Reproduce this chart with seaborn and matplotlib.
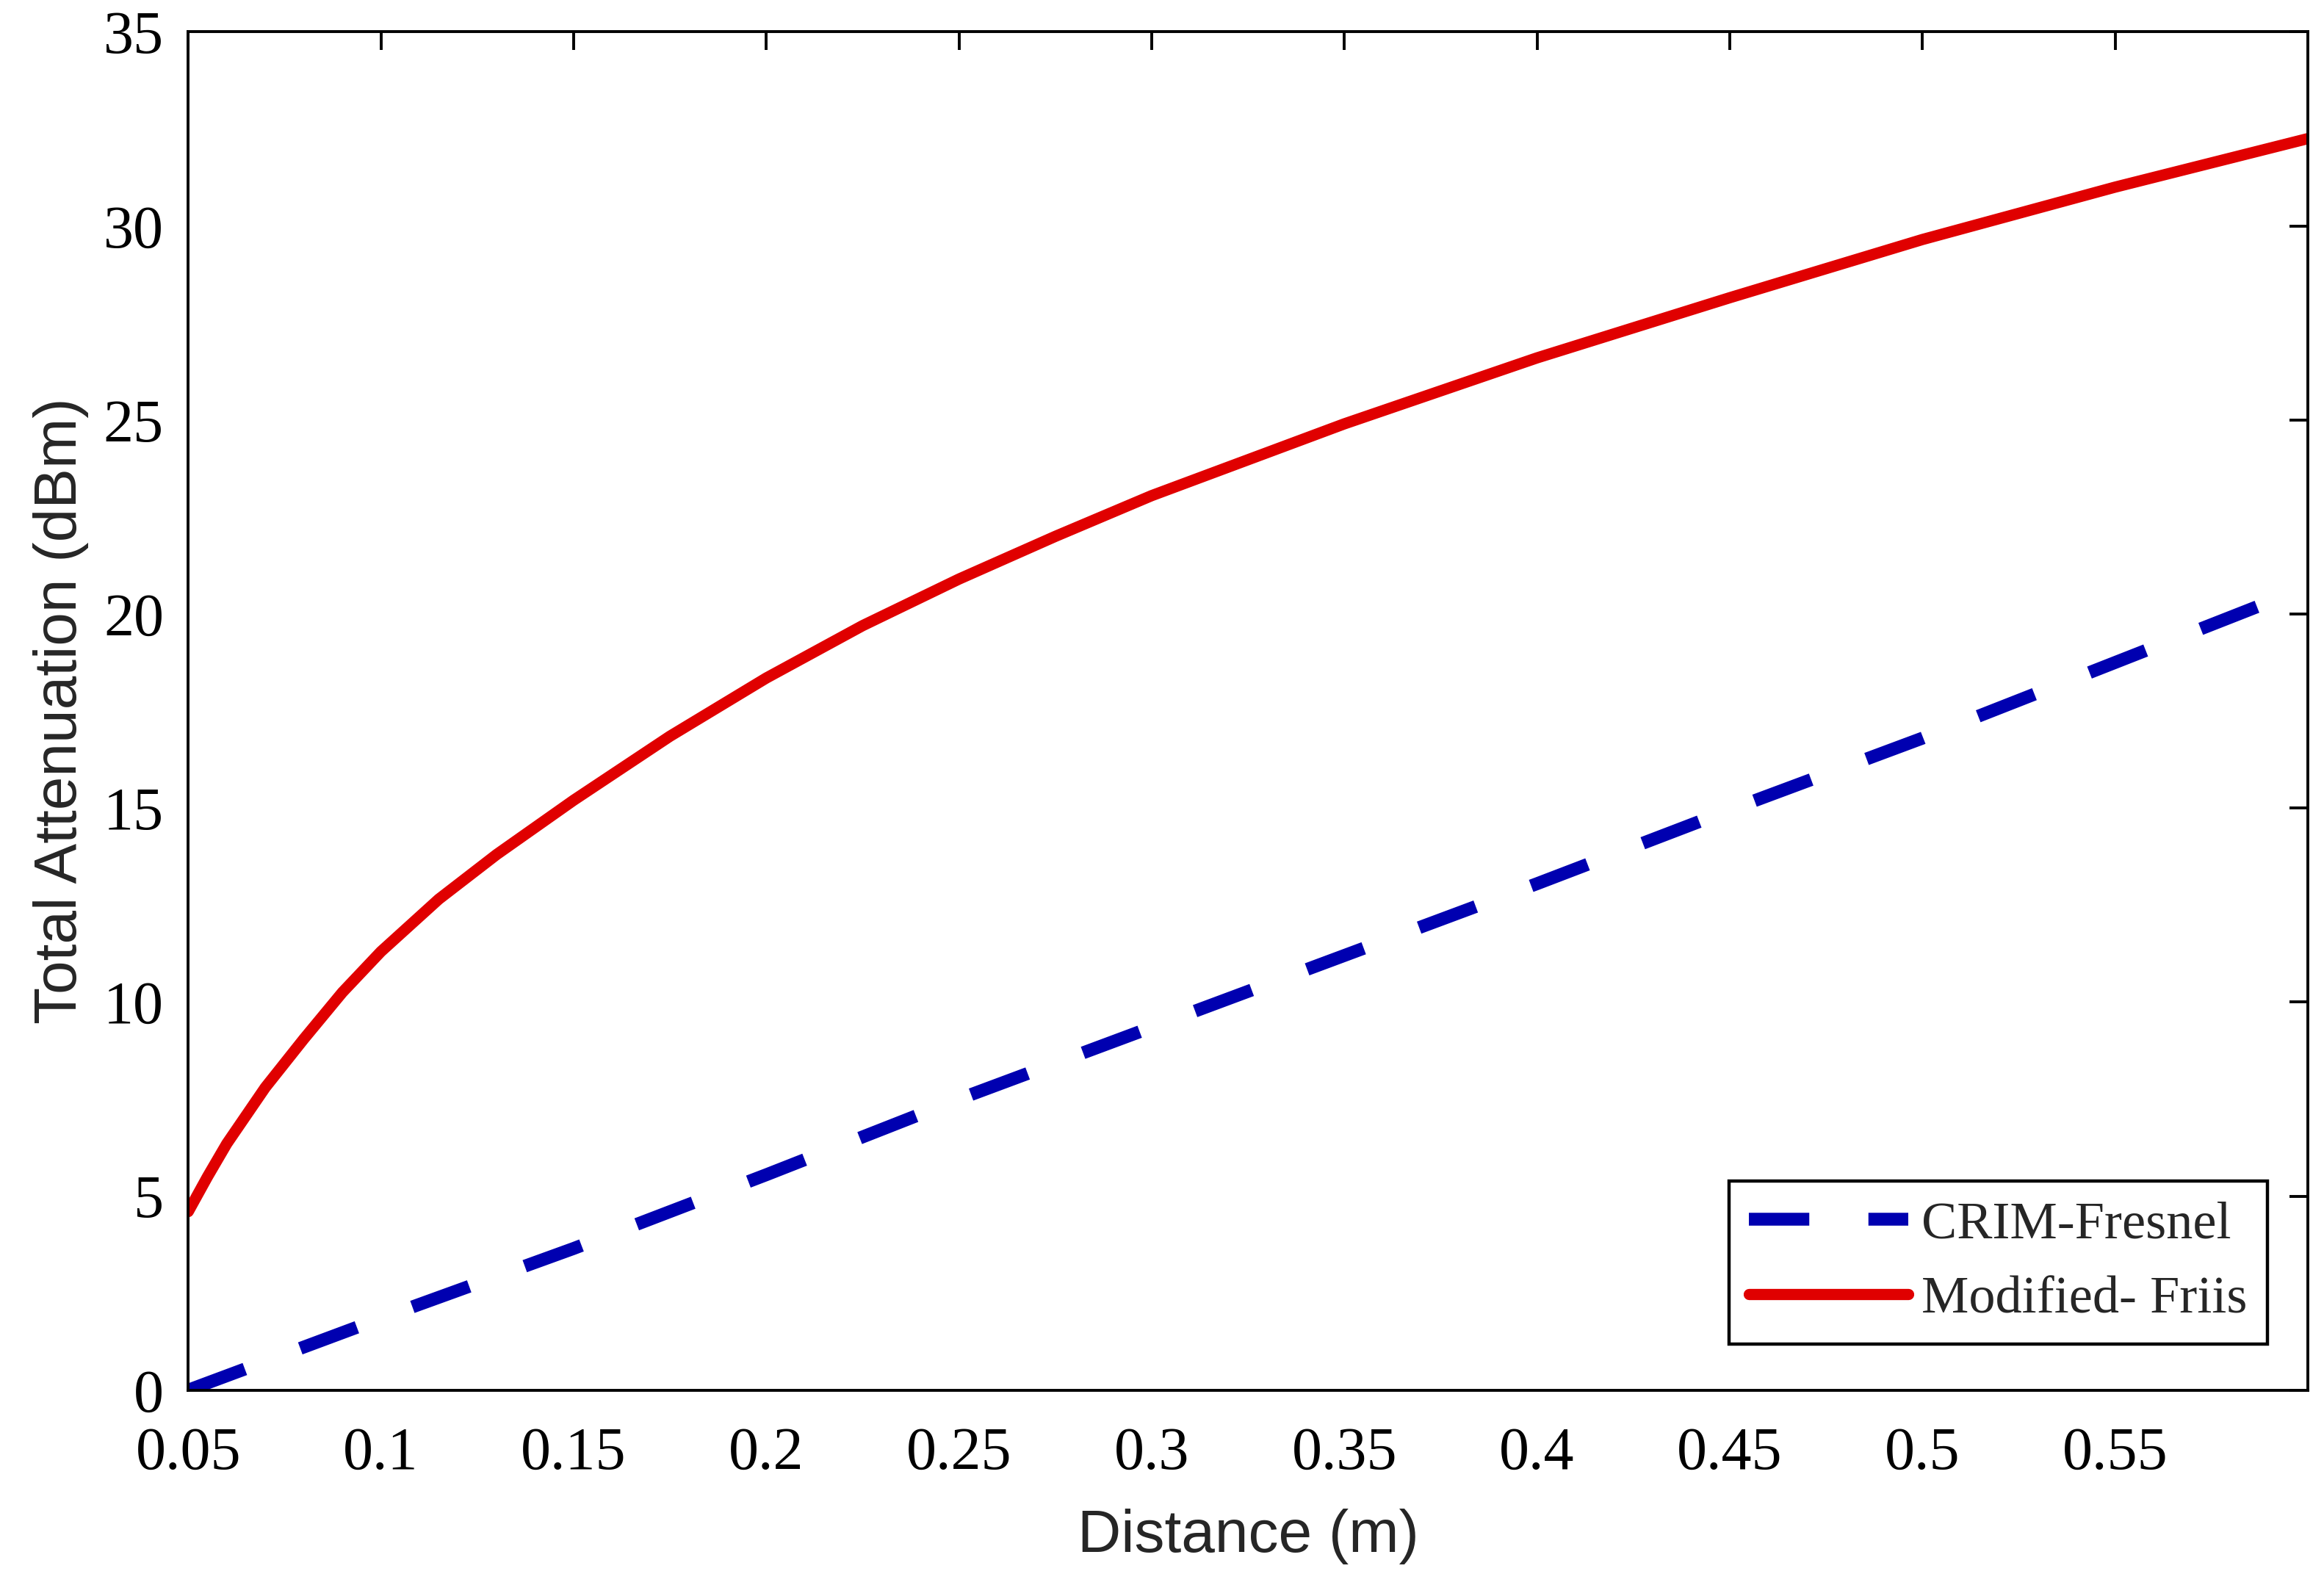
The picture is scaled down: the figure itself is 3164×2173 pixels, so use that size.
import numpy as np
import pandas as pd
import matplotlib
matplotlib.use("Agg")
import matplotlib.pyplot as plt
import seaborn as sns

# Data
friis_x = [0.05, 0.055, 0.06, 0.07, 0.08, 0.09, 0.10, 0.115, 0.13, 0.15, 0.175, 0.20,
           0.225, 0.25, 0.275, 0.30, 0.35, 0.40, 0.45, 0.50, 0.55, 0.60]
friis = [4.6, 5.5, 6.35, 7.8, 9.05, 10.25, 11.3, 12.65, 13.8, 15.2, 16.85, 18.35,
         19.7, 20.9, 22.0, 23.05, 24.9, 26.6, 28.15, 29.65, 31.0, 32.25]
crim_x = [0.05, 0.10, 0.15, 0.20, 0.25, 0.30, 0.35, 0.40, 0.45, 0.50, 0.55, 0.60]
crim = [0.0, 1.85, 3.65, 5.55, 7.5, 9.35, 11.2, 13.05, 14.95, 16.8, 18.75, 20.7]
xticks = [0.05, 0.1, 0.15, 0.2, 0.25, 0.3, 0.35, 0.4, 0.45, 0.5, 0.55]
xticklabels = ["0.05", "0.1", "0.15", "0.2", "0.25", "0.3", "0.35", "0.4", "0.45", "0.5", "0.55"]
yticks = [0, 5, 10, 15, 20, 25, 30, 35]

sns.set_theme(style="white")
plt.rcParams["font.family"] = ["Liberation Serif", "DejaVu Serif"]

fig, ax = plt.subplots(figsize=(15.82, 10.865), dpi=200)
fig.subplots_adjust(left=0.081, right=0.993, top=0.98, bottom=0.129)

df_crim = pd.DataFrame({"Distance": crim_x, "Att": crim})
df_friis = pd.DataFrame({"Distance": friis_x, "Att": friis})

sns.lineplot(data=df_crim, x="Distance", y="Att", ax=ax, color="#0000b0",
             linewidth=6.3, label="CRIM-Fresnel")
ax.lines[-1].set_dashes([4.7, 4.6])
ax.lines[-1].set_dash_capstyle("butt")
sns.lineplot(data=df_friis, x="Distance", y="Att", ax=ax, color="#e00000",
             linewidth=5.5, label="Modified- Friis")
ax.lines[-1].set_solid_joinstyle("round")

ax.set_xlim(0.05, 0.6)
ax.set_ylim(0, 35)
ax.set_xticks(xticks)
ax.set_xticklabels(xticklabels)
ax.set_yticks(yticks)
ax.tick_params(axis="both", which="both", direction="in", length=9, width=1.4,
               top=True, right=True, labelsize=29.5, colors="black")
ax.tick_params(axis="x", pad=18)
ax.tick_params(axis="y", pad=12)
for lab in ax.get_xticklabels() + ax.get_yticklabels():
    lab.set_fontfamily("Liberation Serif")

for sp in ax.spines.values():
    sp.set_color("black")
    sp.set_linewidth(1.4)

ax.set_xlabel("Distance (m)", fontsize=29.5, fontfamily="Liberation Sans", labelpad=13)
ax.set_ylabel("Total Attenuation (dBm)", fontsize=29.5, fontfamily="Liberation Sans", labelpad=7)

leg = ax.legend(loc="lower right", bbox_to_anchor=(0.981, 0.034),
                frameon=True, fancybox=False, handlelength=3.0, handletextpad=0.25,
                borderpad=0.38, labelspacing=0.5, borderaxespad=0,
                prop={"family": "Liberation Serif", "size": 26})
leg.get_frame().set_edgecolor("black")
leg.get_frame().set_linewidth(1.6)
leg.get_frame().set_facecolor("white")
leg.get_frame().set_alpha(1)

fig.savefig("out.png", dpi=200)
